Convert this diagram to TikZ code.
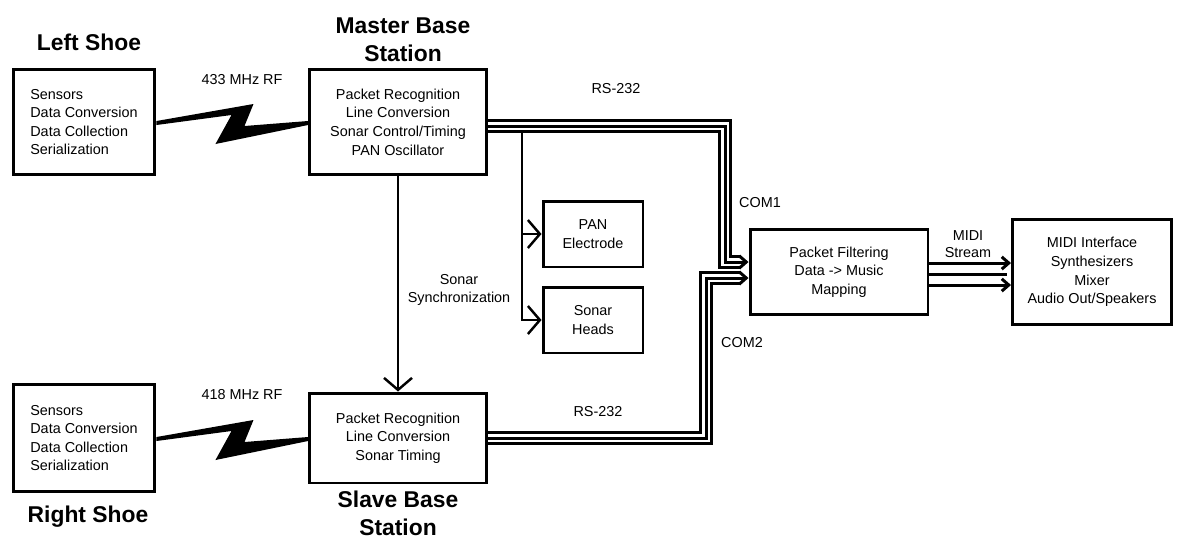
\documentclass[tikz,border=0pt]{standalone}
\usepackage{fontspec}
\setmainfont{Liberation Sans}
\usetikzlibrary{positioning,calc,arrows.meta}

\begin{document}
\begin{tikzpicture}[x=0.02cm, y=-0.02cm,
    box/.style={draw, line width=1.7pt, align=center, inner sep=2pt, font=\fontsize{8.2}{10.6}\selectfont},
    heading/.style={align=center, font=\bfseries\fontsize{13}{16}\selectfont},
    note/.style={align=center, font=\fontsize{8.2}{10}\selectfont},
    sigarrow/.style={line width=1.4pt, -{Straight Barb[length=2.4mm, width=5.6mm]}},
    cable/.style={draw, line width=8.5pt, shorten >=5pt,
        postaction={draw=white, line width=5.1pt, shorten >=5pt},
        postaction={draw=black, line width=1.7pt, shorten >=0pt, -{Straight Barb[length=4pt, width=7pt]}}},
    midiline/.style={line width=1.7pt},
  ]
    \useasboundingbox (0,0) rectangle (1185,542);

    % Shoes
    \node[box, align=left, minimum width=2.84cm, minimum height=2.1cm] (lshoe) at (84,122)
        {Sensors\\Data Conversion\\Data Collection\\Serialization};
    \node[box, align=left, minimum width=2.84cm, minimum height=2.14cm] (rshoe) at (84,438)
        {Sensors\\Data Conversion\\Data Collection\\Serialization};
    \node[heading] (lshoetitle) at (89,42) {Left Shoe};
    \node[heading] (rshoetitle) at (88,517) {Right Shoe};

    % Base stations
    \node[box, minimum width=3.54cm, minimum height=2.1cm] (mbase) at (398,122)
        {Packet Recognition\\Line Conversion\\Sonar Control/Timing\\PAN Oscillator};
    \node[box, minimum width=3.54cm, minimum height=1.8cm] (sbase) at (398,438)
        {Packet Recognition\\Line Conversion\\Sonar Timing};
    \node[heading] (mbasetitle) at (403,40) {Master Base\\Station};
    \node[heading] (sbasetitle) at (398,513) {Slave Base\\Station};

    % Peripherals
    \node[box, minimum width=2cm, minimum height=1.32cm] (pan) at (593,234) {PAN\\Electrode};
    \node[box, minimum width=2cm, minimum height=1.32cm] (sonar) at (593,320) {Sonar\\Heads};
    \node[box, minimum width=3.56cm, minimum height=1.7cm] (pfilter) at (839,272)
        {Packet Filtering\\Data -> Music\\Mapping};
    \node[box, minimum width=3.18cm, minimum height=2.1cm] (midi) at (1092,272)
        {MIDI Interface\\Synthesizers\\Mixer\\Audio Out/Speakers};

    % Labels
    \node[note] (rf1) at (242,80) {433 MHz RF};
    \node[note] (rf2) at (242,395) {418 MHz RF};
    \node[note] (rs1) at (616,89) {RS-232};
    \node[note] (rs2) at (598,412) {RS-232};
    \node[note] (com1) at (760,203) {COM1};
    \node[note] (com2) at (742,343) {COM2};
    \node[note] (sync) at (459,290) {Sonar\\Synchronization};
    \node[note] (stream) at (968,244) {MIDI\\Stream};

    % RF links
    \foreach \a/\b in {lshoe/mbase, rshoe/sbase}
        \fill ($(\a.east)+(0,-1)$) -- ($(\a.east)+(97,-18)$) -- ($(\a.east)+(88,4)$)
            -- ($(\b.west)+(0,-1)$) -- ($(\b.west)+(0,3)$) -- ($(\a.east)+(59,22)$)
            -- ($(\a.east)+(75,-7)$) -- ($(\a.east)+(0,3)$) -- cycle;

    % Sonar and PAN lines
    \coordinate (tap) at (522,126);
    \draw[sigarrow] (tap) |- (pan.west);
    \draw[sigarrow] (tap) |- (sonar.west);
    \draw[sigarrow] (mbase.south) -- (sbase.north);

    % Serial cables
    \coordinate (c1) at (725,126);
    \coordinate (c2) at (706,438);
    \coordinate (y1) at (0,262);
    \coordinate (y2) at (0,278);
    \draw[cable] (mbase.east |- c1) -- (c1) -- (c1 |- y1) -- (pfilter.west |- y1);
    \draw[cable] (sbase.east |- c2) -- (c2) -- (c2 |- y2) -- (pfilter.west |- y2);

    % MIDI stream
    \foreach \dy in {-9,13}
        \draw[midiline, -{Straight Barb[length=4pt, width=7pt]}] ($(pfilter.east)+(0,\dy)$) -- ($(midi.west)+(0,\dy)$);
    \draw[midiline] ($(pfilter.east)+(0,2)$) -- ($(midi.west)+(-4,2)$);
\end{tikzpicture}
\end{document}
